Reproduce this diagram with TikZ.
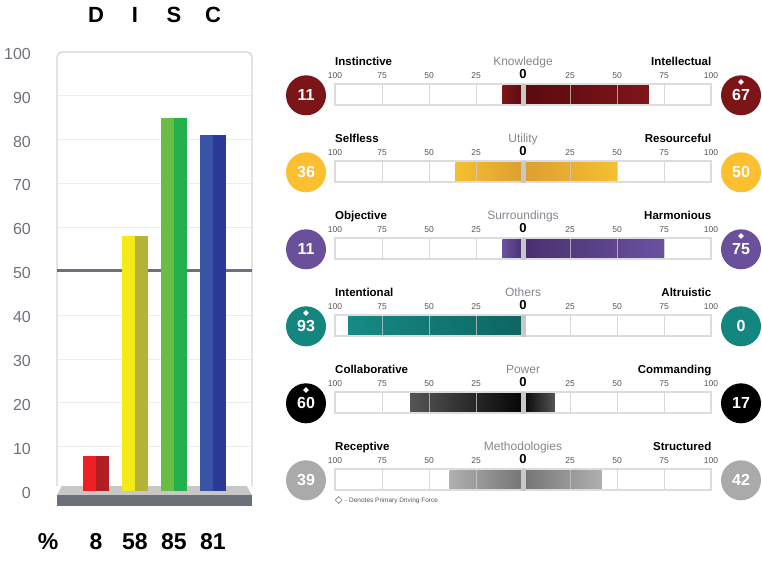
\documentclass[tikz,border=0pt]{standalone}
\usepackage{fontspec}
\setmainfont{Liberation Sans}
\usetikzlibrary{shapes.geometric}
\definecolor{axisgray}{HTML}{6E717B}
\definecolor{gridc}{HTML}{ECECEC}
\definecolor{panelc}{HTML}{D4D4D4}
\definecolor{fiftyc}{HTML}{6C717B}
\definecolor{plattop}{HTML}{C8C7C6}
\definecolor{platfront}{HTML}{6B7079}
\definecolor{dL}{HTML}{ED1F24}\definecolor{dR}{HTML}{B11F24}
\definecolor{iL}{HTML}{F4EA18}\definecolor{iR}{HTML}{B4B237}
\definecolor{sL}{HTML}{69BD45}\definecolor{sR}{HTML}{23B14B}
\definecolor{cL}{HTML}{3954A5}\definecolor{cR}{HTML}{2B3A98}
\definecolor{rowo1}{HTML}{7E161B}\definecolor{rowc1}{HTML}{5A0A0E}\definecolor{circ1}{HTML}{7B1518}
\definecolor{rowo2}{HTML}{F5C030}\definecolor{rowc2}{HTML}{DC9E32}\definecolor{circ2}{HTML}{FCBF2F}
\definecolor{rowo3}{HTML}{6B52A0}\definecolor{rowc3}{HTML}{48306F}\definecolor{circ3}{HTML}{6A509B}
\definecolor{rowo4}{HTML}{168B85}\definecolor{rowc4}{HTML}{0E6461}\definecolor{circ4}{HTML}{138680}
\definecolor{rowo5}{HTML}{555555}\definecolor{rowc5}{HTML}{050505}\definecolor{circ5}{HTML}{000000}
\definecolor{rowo6}{HTML}{B0B0B0}\definecolor{rowc6}{HTML}{747474}\definecolor{circ6}{HTML}{AAAAAA}
\definecolor{barborder}{HTML}{DCDCDC}
\definecolor{divc}{HTML}{C8C8C8}
\definecolor{titlec}{HTML}{85868F}
\definecolor{tickl}{HTML}{555555}
\newcommand\fsz[1]{\fontsize{#1}{#1}\selectfont}
\tikzset{
  ylab/.style={anchor=east,inner sep=0,text=axisgray,font=\fsz{16}},
  disclab/.style={anchor=base,inner sep=0,font=\bfseries\fsz{22}},
  pctlab/.style={anchor=base,inner sep=0,font=\bfseries\fsz{23}},
  sidelab/.style={inner sep=0,font=\bfseries\fsz{11.5}},
  titlelab/.style={anchor=base,inner sep=0,text=titlec,font=\fsz{12}},
  zerolab/.style={anchor=base,inner sep=0,font=\bfseries\fsz{13}},
  ticklab/.style={anchor=base,inner sep=0,text=tickl,font=\fsz{8.5}},
  scorecirc/.style={circle,inner sep=0,minimum size=40pt,text=white,font=\bfseries\fsz{16}},
  mark diamond/.style={diamond,fill=white,inner sep=0,minimum width=6pt,minimum height=6pt},
  tickline/.style={gray!40,opacity=0.75,line width=0.9pt},
}
\begin{document}
\begin{tikzpicture}[x=1pt,y=-1pt]
\useasboundingbox (0,0) rectangle (762,562);
% ---------- left chart ----------
\foreach \v in {10,20,30,40,60,70,80,90}
  \draw[gridc,line width=1pt] (58,{490.7-4.39*\v}) -- (251,{490.7-4.39*\v});
\draw[panelc,line width=1.3pt,rounded corners=5pt] (57,486) -- (57,52) -- (252,52) -- (252,486);
\foreach \v in {0,10,...,100}
  \node[ylab] (yl\v) at (31,{492.7-4.39*\v}) {\v};
\fill[plattop] (61.7,486) -- (246.7,486) -- (252,495) -- (57,495) -- cycle;
\fill[platfront] (57,495) rectangle (252,505.7);
\draw[fiftyc,line width=3.2pt] (57,270.2) -- (252,270.2);
\foreach \x/\v/\cl/\cr/\lt in {96/8/dL/dR/D,135/58/iL/iR/I,174/85/sL/sR/S,213/81/cL/cR/C}{
  \fill[\cl] ({\x-13},490.7) rectangle (\x,{490.7-4.39*\v});
  \fill[\cr] (\x,490.7) rectangle ({\x+13},{490.7-4.39*\v});
  \node[disclab] (h\lt) at (\x,22.7) {\lt};
  \node[pctlab] (p\lt) at (\x,549.3) {\v};
}
\node[pctlab] (pct) at (48,549.3) {\%};
% ---------- right rows ----------
\foreach \rw/\yc/\lv/\rv/\lab/\ttl/\rab/\dl/\dr in {1/94.5/11/67/Instinctive/Knowledge/Intellectual/0/1,2/171.5/36/50/Selfless/Utility/Resourceful/0/0,3/248.5/11/75/Objective/Surroundings/Harmonious/0/1,4/325.5/93/0/Intentional/Others/Altruistic/1/0,5/402.5/60/17/Collaborative/Power/Commanding/1/0,6/479.5/39/42/Receptive/Methodologies/Structured/0/0}{
  \fill[white] (335,{\yc-10.5}) rectangle (711,{\yc+10.5});
  \shade[left color=rowo\rw,right color=rowc\rw] ({523-\lv*1.88},{\yc-9.5}) rectangle (523,{\yc+9.5});
  \ifnum\rv>0
    \shade[left color=rowc\rw,right color=rowo\rw] (523,{\yc-9.5}) rectangle ({523+\rv*1.88},{\yc+9.5});
  \fi
  \foreach \tk in {-141,-94,-47,47,94,141}
    \draw[tickline] ({523+\tk},{\yc-9.5}) -- ({523+\tk},{\yc+9.5});
  \draw[barborder,line width=1.5pt] (335,{\yc-10.5}) rectangle (711,{\yc+10.5});
  \fill[divc] (520.5,{\yc-11}) rectangle (525.5,{\yc+11});
  \foreach \tk/\tv [count=\kk] in {-188/100,-141/75,-94/50,-47/25,47/25,94/50,141/75,188/100}
    \node[ticklab] (t\rw-\kk) at ({523+\tk},{\yc-16.2}) {\tv};
  \node[zerolab] (z\rw) at (523,{\yc-16.2}) {0};
  \node[sidelab,anchor=base west] (ll\rw) at (335,{\yc-29.5}) {\lab};
  \node[sidelab,anchor=base east] (rl\rw) at (711.5,{\yc-29.5}) {\rab};
  \node[titlelab] (tt\rw) at (523,{\yc-29.5}) {\ttl};
  \node[scorecirc,fill=circ\rw] (cl\rw) at (306,{\yc+0.8}) {\lv};
  \node[scorecirc,fill=circ\rw] (cr\rw) at (741,{\yc+0.8}) {\rv};
  \ifnum\dl=1 \node[mark diamond] (dmL\rw) at (306,{\yc-12.5}) {}; \fi
  \ifnum\dr=1 \node[mark diamond] (dmR\rw) at (741,{\yc-12.5}) {}; \fi
}
\node[diamond,draw=gray,line width=0.6pt,inner sep=0,minimum width=7pt,minimum height=7pt] (legd) at (338.7,500) {};
\node[anchor=base west,inner sep=0,text=tickl,font=\fsz{6.5}] (legt) at (345,502.3) {- Denotes Primary Driving Force};
\end{tikzpicture}
\end{document}
